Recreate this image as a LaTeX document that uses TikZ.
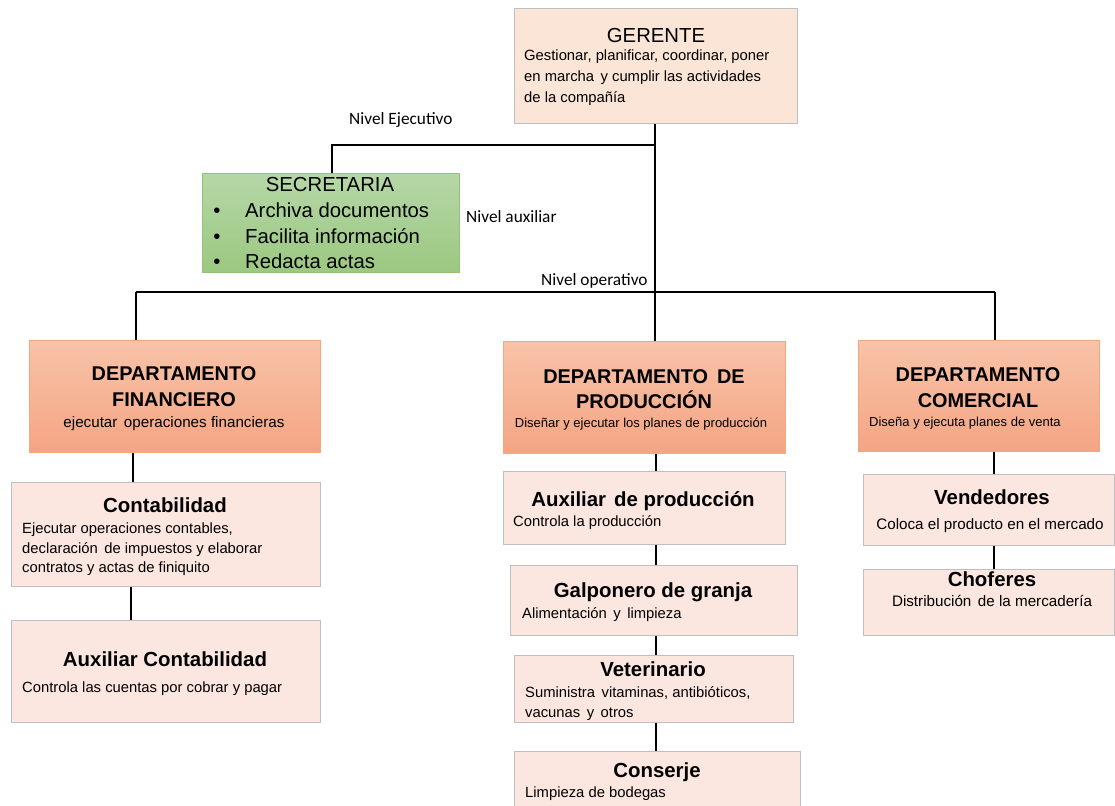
\documentclass[tikz,border=0pt]{standalone}
\usepackage{fontspec}
\setmainfont{Liberation Sans}
\newfontfamily\calib{Carlito}
\usetikzlibrary{shadings}
\newcommand{\wsp}{\hspace{6.5pt}}
\definecolor{bordergray}{HTML}{BFBFBF}
\definecolor{pinkfill}{HTML}{FBE6E0}
\definecolor{peach}{HTML}{FBE5D6}
\definecolor{deptborder}{HTML}{F4A877}
\definecolor{depttop}{HTML}{F8C3A9}
\definecolor{deptbot}{HTML}{F4A583}
\definecolor{secborder}{HTML}{92C278}
\definecolor{sectop}{HTML}{B5D7A6}
\definecolor{secbot}{HTML}{9CC881}
\tikzset{
  box/.style={draw=bordergray, line width=0.8pt, inner sep=0pt, anchor=north west},
  pinkbox/.style={box, fill=pinkfill},
  gerbox/.style={box, fill=peach},
  deptbox/.style={box, draw=deptborder, top color=depttop, bottom color=deptbot},
  secbox/.style={box, draw=secborder, top color=sectop, bottom color=secbot},
  conn/.style={line width=1.4pt, black},
  body/.style={inner sep=0pt, anchor=base west, font=\fontsize{14.8}{17}\selectfont},
  bodyc/.style={inner sep=0pt, anchor=base, font=\fontsize{15.2}{17}\selectfont},
  ttl/.style={inner sep=0pt, anchor=base, font=\bfseries\fontsize{20.4}{23}\selectfont},
  dttl/.style={inner sep=0pt, anchor=base, font=\bfseries\fontsize{19.9}{23}\selectfont},
  dsub/.style={inner sep=0pt, font=\fontsize{13}{15}\selectfont},
  big/.style={inner sep=0pt, font=\fontsize{20.3}{23}\selectfont},
  nivel/.style={inner sep=0pt, anchor=base west, font=\calib\fontsize{17.3}{20}\selectfont},
}
\begin{document}
\begin{tikzpicture}[x=1pt,y=-1pt]
\useasboundingbox (0,0) rectangle (1115,805);
\fill[white] (0,0) rectangle (1115,805);
% boxes
\node[gerbox, minimum width=283pt, minimum height=115pt] (ger) at (514,8) {};
\node[secbox, minimum width=257pt, minimum height=99pt] (sec) at (202,173) {};
\node[deptbox, minimum width=291pt, minimum height=112pt] (fin) at (29,340) {};
\node[deptbox, minimum width=282pt, minimum height=112pt] (prod) at (503,341) {};
\node[deptbox, minimum width=241pt, minimum height=111pt] (com) at (858,340) {};
\node[pinkbox, minimum width=309pt, minimum height=104pt] (conta) at (11,482) {};
\node[pinkbox, minimum width=309pt, minimum height=102pt] (auxc) at (11,620) {};
\node[pinkbox, minimum width=282pt, minimum height=73pt] (auxp) at (503,471) {};
\node[pinkbox, minimum width=287pt, minimum height=70pt] (galp) at (510,565) {};
\node[pinkbox, minimum width=279pt, minimum height=67pt] (vet) at (514,655) {};
\node[pinkbox, minimum width=286pt, minimum height=58pt] (cons) at (514,751) {};
\node[pinkbox, minimum width=251pt, minimum height=71pt] (vend) at (863,474) {};
\node[pinkbox, minimum width=251pt, minimum height=66pt] (chof) at (863,569) {};
% junction coordinates
\coordinate (jE) at (655,145);
\coordinate (jO) at (655,292);
\coordinate (oL) at (136,292);
\coordinate (oR) at (995,292);
\coordinate (xS) at (332,0);
\coordinate (xF1) at (133,0);
\coordinate (xF2) at (131,0);
\coordinate (xP) at (656,0);
\coordinate (xC) at (994,0);
% connectors
\draw[conn] (ger.south -| jO) -- (jO);
\draw[conn] (jE) -| (sec.north -| xS);
\draw[conn] (oL) -- (oR);
\draw[conn] (oL) -- (oL |- fin.north);
\draw[conn] (jO) -- (jO |- prod.north);
\draw[conn] (oR) -- (oR |- com.north);
\draw[conn] (fin.south -| xF1) -- (conta.north -| xF1);
\draw[conn] (conta.south -| xF2) -- (auxc.north -| xF2);
\draw[conn] (prod.south -| xP) -- (auxp.north -| xP);
\draw[conn] (auxp.south -| xP) -- (galp.north -| xP);
\draw[conn] (galp.south -| xP) -- (vet.north -| xP);
\draw[conn] (vet.south -| xP) -- (cons.north -| xP);
\draw[conn] (com.south -| xC) -- (vend.north -| xC);
\draw[conn] (vend.south -| xC) -- (chof.north -| xC);
% Gerente text
\node[big, anchor=base] (gerT) at (656,43) {GERENTE};
\node[body] (gerL1) at (524,61) {Gestionar, planificar, coordinar, poner};
\node[body] (gerL2) at (524,82) {en marcha\wsp y cumplir las actividades};
\node[body] (gerL3) at (524,103) {de la compañía};
% Secretaria
\node[big, anchor=base] (secT) at (330,191) {SECRETARIA};
\node[big, anchor=base] (secB1) at (217,217) {•};
\node[big, anchor=base] (secB2) at (217,243) {•};
\node[big, anchor=base] (secB3) at (217,268) {•};
\node[big, anchor=base west] (secI1) at (245,217) {Archiva documentos};
\node[big, anchor=base west] (secI2) at (245,243) {Facilita información};
\node[big, anchor=base west] (secI3) at (245,268) {Redacta actas};
% Nivel labels
\node[nivel] (nE) at (349,125) {Nivel Ejecutivo};
\node[nivel] (nA) at (466,222) {Nivel auxiliar};
\node[nivel] (nO) at (541,285) {Nivel operativo};
% Departamento financiero
\node[dttl] (finT1) at (174,380) {DEPARTAMENTO};
\node[dttl] (finT2) at (174,406) {FINANCIERO};
\node[bodyc] (finS) at (174,427) {ejecutar\wsp operaciones financieras};
% Departamento produccion
\node[dttl] (prodT1) at (644,383) {DEPARTAMENTO\hspace{9pt}DE};
\node[dttl] (prodT2) at (644,408) {PRODUCCIÓN};
\node[dsub, anchor=base] (prodS) at (641,427) {Diseñar y ejecutar los planes de producción};
% Departamento comercial
\node[dttl] (comT1) at (978,381) {DEPARTAMENTO};
\node[dttl] (comT2) at (978,407) {COMERCIAL};
\node[dsub, anchor=base west] (comS) at (869,426) {Diseña y ejecuta planes de venta};
% Contabilidad
\node[ttl] (contaT) at (165,512) {Contabilidad};
\node[body] (contaL1) at (22,533) {Ejecutar operaciones contables,};
\node[body] (contaL2) at (22,553) {declaración\wsp de impuestos y elaborar};
\node[body] (contaL3) at (22,572) {contratos y actas de finiquito};
% Auxiliar contabilidad
\node[ttl] (auxcT) at (165,666) {Auxiliar Contabilidad};
\node[body] (auxcL) at (22,692) {Controla las cuentas por cobrar y pagar};
% Auxiliar produccion
\node[ttl] (auxpT) at (643,506) {Auxiliar\hspace{8pt}de producción};
\node[body] (auxpL) at (513,526) {Controla la producción};
% Galponero
\node[ttl] (galpT) at (653,597) {Galponero de granja};
\node[body] (galpL) at (522,618) {Alimentación\wsp y\wsp limpieza};
% Veterinario
\node[ttl] (vetT) at (653,676) {Veterinario};
\node[body] (vetL1) at (525,697) {Suministra\wsp vitaminas, antibióticos,};
\node[body] (vetL2) at (525,717) {vacunas\wsp y\wsp otros};
% Conserje
\node[ttl] (consT) at (657,777) {Conserje};
\node[body] (consL) at (525,797) {Limpieza de bodegas};
% Vendedores
\node[ttl] (vendT) at (992,504) {Vendedores};
\node[bodyc] (vendL) at (990,529) {Coloca el producto en el mercado};
% Choferes
\node[ttl] (chofT) at (992,586) {Choferes};
\node[bodyc] (chofL) at (992,606) {Distribución\wsp de la mercadería};
\end{tikzpicture}
\end{document}
